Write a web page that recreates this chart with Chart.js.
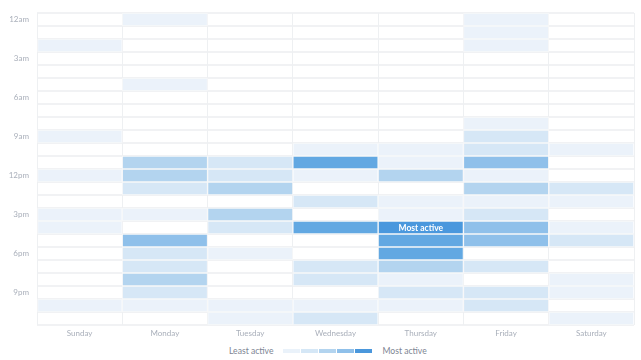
<!DOCTYPE html>
<html>
<head>
<meta charset="utf-8">
<script src="https://cdn.jsdelivr.net/npm/chart.js@4"></script>
<style>
  body { margin: 0; background: #fff; font-family: Lato, "Noto Sans", sans-serif; }
  #wrap { position: relative; width: 641px; height: 360px; }
  #legend { position: absolute; left: 229px; top: 345px; height: 12px; display: flex; align-items: center; font-size: 8.6px; color: #7d8593; }
  #legend .sw { display: inline-block; width: 17px; height: 4px; margin-right: 1px; }
  #legend .txt-l { margin-right: 10px; }
  #legend .txt-r { margin-left: 9px; }
</style>
</head>
<body>
<div id="wrap">
  <canvas id="myChart" width="641" height="342"></canvas>
  <div id="legend"></div>
</div>
<script>
const days = ["Sunday", "Monday", "Tuesday", "Wednesday", "Thursday", "Friday", "Saturday"];
const hours = ["12am", "1am", "2am", "3am", "4am", "5am", "6am", "7am", "8am", "9am", "10am", "11am",
  "12pm", "1pm", "2pm", "3pm", "4pm", "5pm", "6pm", "7pm", "8pm", "9pm", "10pm", "11pm"];

// activity level per hour (0 = none, 6 = most active)
const sunday    = [0,0,1,0,0,0,0,0,0,1,0,0,1,0,0,1,1,0,0,0,0,0,1,0];
const monday    = [1,0,0,0,0,1,0,0,0,0,0,3,3,2,0,1,0,4,2,2,3,2,1,0];
const tuesday   = [0,0,0,0,0,0,0,0,0,0,0,2,2,3,0,3,2,0,1,0,0,0,1,1];
const wednesday = [0,0,0,0,0,0,0,0,0,0,1,5,1,0,2,0,5,0,0,2,2,0,1,2];
const thursday  = [0,0,0,0,0,0,0,0,0,0,1,1,3,0,1,1,6,5,5,3,1,2,1,0];
const friday    = [1,1,1,0,0,0,0,0,1,2,2,4,1,3,1,2,4,4,0,2,0,2,2,0];
const saturday  = [0,0,0,0,0,0,0,0,0,0,1,0,0,2,1,0,1,2,0,0,1,1,0,1];
const activity = [sunday, monday, tuesday, wednesday, thursday, friday, saturday];

const palette = ["rgba(0,0,0,0)", "#ebf2fa", "#d6e7f6", "#b3d4ef", "#8fc0ea", "#62a8e2", "#4a98dd"];
const legendColors = ["#eaf2fa", "#d5e7f6", "#b3d4ef", "#8fc0ea", "#4a97dc"];
const peakText = "Most active";

// find the busiest cell to put the label on
let peakDay = 0, peakHour = 0;
activity.forEach((col, d) => col.forEach((v, h) => {
  if (v > activity[peakDay][peakHour]) { peakDay = d; peakHour = h; }
}));

const peakLabel = {
  id: "peakLabel",
  afterDatasetsDraw(chart) {
    const { ctx, scales: { x, y } } = chart;
    ctx.save();
    ctx.fillStyle = "#fff";
    ctx.font = "bold 8.5px Lato, sans-serif";
    ctx.textAlign = "center";
    ctx.textBaseline = "middle";
    ctx.fillText(peakText, x.getPixelForValue(peakDay + 0.5), y.getPixelForValue(peakHour) + 0.5);
    ctx.restore();
  },
};

const tickColor = "#a9afba";
const tickFont = { family: "Lato, sans-serif", size: 8 };

new Chart(document.getElementById("myChart"), {
  type: "bar",
  data: {
    labels: hours,
    datasets: days.map((day, d) => ({
      label: day,
      data: hours.map(() => [d, d + 1]),
      backgroundColor: (c) => palette[activity[d][c.dataIndex]],
      borderColor: (c) => (activity[d][c.dataIndex] ? "rgba(255,255,255,0.45)" : "rgba(0,0,0,0)"),
      borderWidth: 1,
      borderSkipped: false,
      grouped: false,
      barPercentage: 1,
      categoryPercentage: 1,
    })),
  },
  options: {
    indexAxis: "y",
    responsive: false,
    animation: false,
    devicePixelRatio: 1,
    layout: { padding: { top: 13, right: 7, left: 0, bottom: 0 } },
    plugins: { legend: { display: false }, tooltip: { enabled: false } },
    scales: {
      y: {
        type: "category",
        offset: true,
        grid: { offset: true, color: "#f1f2f4", lineWidth: 2, drawTicks: false },
        border: { display: false },
        ticks: {
          color: tickColor,
          font: tickFont,
          padding: 8,
          autoSkip: false,
          callback: (v, i) => (i % 3 === 0 ? hours[i] : ""),
        },
        afterFit: (s) => { s.width = 37; },
      },
      x: {
        type: "linear",
        min: 0,
        max: 7,
        position: "bottom",
        grid: { color: "#eef0f2", lineWidth: 1, drawTicks: false },
        border: { display: false },
        ticks: { display: false, stepSize: 1 },
        afterFit: (s) => { s.height = 0; },
      },
      days: {
        type: "category",
        axis: "x",
        labels: days,
        position: "bottom",
        offset: true,
        grid: { display: false, drawTicks: false },
        border: { display: false },
        ticks: { color: tickColor, font: tickFont, padding: 4 },
        afterFit: (s) => { s.height = 17; },
      },
    },
  },
  plugins: [peakLabel],
});

// custom legend: least -> most active
const legend = document.getElementById("legend");
legend.innerHTML =
  '<span class="txt-l">Least active</span>' +
  legendColors.map((c) => `<span class="sw" style="background:${c}"></span>`).join("") +
  '<span class="txt-r">Most active</span>';
</script>
</body>
</html>
